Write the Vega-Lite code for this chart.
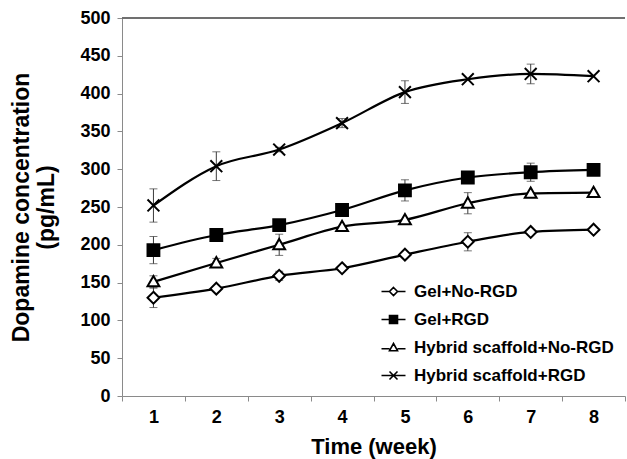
{
  "$schema": "https://vega.github.io/schema/vega-lite/v6.json",
  "width": 503,
  "height": 378,
  "autosize": {"type": "none"},
  "padding": {"left": 122, "top": 18, "right": 2, "bottom": 63},
  "background": "white",
  "config": {
    "view": {"stroke": null},
    "font": "Liberation Sans",
    "axis": {"labelFont": "Liberation Sans", "titleFont": "Liberation Sans", "labelFontWeight": "bold", "titleFontWeight": "bold", "labelColor": "black", "titleColor": "black", "domainColor": "#8a8a8a", "tickColor": "#8a8a8a", "grid": false}
  },
  "datasets": {
    "pts": [
      {"series": "Gel+No-RGD", "week": 1, "value": 130, "lo": 117, "hi": 143},
      {"series": "Gel+No-RGD", "week": 2, "value": 142},
      {"series": "Gel+No-RGD", "week": 3, "value": 159, "lo": 153, "hi": 165},
      {"series": "Gel+No-RGD", "week": 4, "value": 169},
      {"series": "Gel+No-RGD", "week": 5, "value": 187},
      {"series": "Gel+No-RGD", "week": 6, "value": 204, "lo": 192, "hi": 216},
      {"series": "Gel+No-RGD", "week": 7, "value": 217},
      {"series": "Gel+No-RGD", "week": 8, "value": 220},
      {"series": "Gel+RGD", "week": 1, "value": 193, "lo": 175, "hi": 211},
      {"series": "Gel+RGD", "week": 2, "value": 213, "lo": 206, "hi": 220},
      {"series": "Gel+RGD", "week": 3, "value": 226},
      {"series": "Gel+RGD", "week": 4, "value": 246},
      {"series": "Gel+RGD", "week": 5, "value": 272, "lo": 258, "hi": 286},
      {"series": "Gel+RGD", "week": 6, "value": 289},
      {"series": "Gel+RGD", "week": 7, "value": 296, "lo": 284, "hi": 308},
      {"series": "Gel+RGD", "week": 8, "value": 299},
      {"series": "Hybrid scaffold+No-RGD", "week": 1, "value": 151, "lo": 143, "hi": 159},
      {"series": "Hybrid scaffold+No-RGD", "week": 2, "value": 176, "lo": 170, "hi": 182},
      {"series": "Hybrid scaffold+No-RGD", "week": 3, "value": 200, "lo": 186, "hi": 214},
      {"series": "Hybrid scaffold+No-RGD", "week": 4, "value": 224},
      {"series": "Hybrid scaffold+No-RGD", "week": 5, "value": 233},
      {"series": "Hybrid scaffold+No-RGD", "week": 6, "value": 255, "lo": 241, "hi": 269},
      {"series": "Hybrid scaffold+No-RGD", "week": 7, "value": 268},
      {"series": "Hybrid scaffold+No-RGD", "week": 8, "value": 269},
      {"series": "Hybrid scaffold+RGD", "week": 1, "value": 252, "lo": 230, "hi": 274},
      {"series": "Hybrid scaffold+RGD", "week": 2, "value": 304, "lo": 285, "hi": 323},
      {"series": "Hybrid scaffold+RGD", "week": 3, "value": 326, "lo": 323, "hi": 329},
      {"series": "Hybrid scaffold+RGD", "week": 4, "value": 361, "lo": 355, "hi": 367},
      {"series": "Hybrid scaffold+RGD", "week": 5, "value": 402, "lo": 387, "hi": 417},
      {"series": "Hybrid scaffold+RGD", "week": 6, "value": 419},
      {"series": "Hybrid scaffold+RGD", "week": 7, "value": 426, "lo": 413, "hi": 439},
      {"series": "Hybrid scaffold+RGD", "week": 8, "value": 423}
    ]
  },
  "data": {"name": "pts"},
  "resolve": {"scale": {"shape": "independent", "fill": "independent", "stroke": "independent"}, "legend": {"shape": "independent", "fill": "independent", "stroke": "independent"}},
  "encoding": {
    "x": {
      "field": "week", "type": "quantitative",
      "scale": {"domain": [0.5, 8.5], "nice": false, "zero": false},
      "axis": {
        "title": "Time (week)", "titleFontSize": 22, "titlePadding": 10,
        "values": [0.5, 1.5, 2.5, 3.5, 4.5, 5.5, 6.5, 7.5, 8.5],
        "labelExpr": "datum.value < 8 ? format(datum.value + 0.5, 'd') : ''",
        "labelOffset": 31.4, "labelFontSize": 18, "labelPadding": 7, "tickSize": 5,
        "labelFlush": false, "labelOverlap": false, "labelBound": false
      }
    },
    "y": {
      "field": "value", "type": "quantitative",
      "scale": {"domain": [0, 500], "nice": false},
      "axis": {
        "title": ["Dopamine concentration", "(pg/mL)"], "titleFontSize": 23, "titleLineHeight": 25, "titlePadding": 21,
        "values": [0, 50, 100, 150, 200, 250, 300, 350, 400, 450, 500],
        "labelFontSize": 18, "labelPadding": 7, "tickSize": 5
      }
    }
  },
  "layer": [
    {
      "mark": {"type": "rule", "color": "#707070", "strokeWidth": 1.5},
      "encoding": {"x": null, "y": {"datum": 500, "type": "quantitative"}}
    },
    {
      "mark": {"type": "errorbar", "ticks": {"size": 8, "color": "#3a3a3a", "strokeWidth": 1}, "rule": {"color": "#3a3a3a", "strokeWidth": 1}},
      "encoding": {
        "y": {"field": "lo", "type": "quantitative"},
        "y2": {"field": "hi"}
      }
    },
    {
      "mark": {"type": "line", "color": "black", "strokeWidth": 2.2, "interpolate": "monotone"},
      "encoding": {
        "detail": {"field": "series"}
      }
    },
    {
      "mark": {"type": "point", "filled": true, "opacity": 1, "stroke": "black", "strokeWidth": 2},
      "encoding": {
        "shape": {
          "field": "series", "type": "nominal",
          "scale": {
            "domain": ["Gel+No-RGD", "Gel+RGD", "Hybrid scaffold+No-RGD", "Hybrid scaffold+RGD"],
            "range": ["M0,-1L1,0L0,1L-1,0Z", "square", "M0,-1L1,0.75L-1,0.75Z", "M-1,-1L1,1M1,-1L-1,1"]
          },
          "legend": null
        },
        "fill": {
          "field": "series", "type": "nominal",
          "scale": {
            "domain": ["Gel+No-RGD", "Gel+RGD", "Hybrid scaffold+No-RGD", "Hybrid scaffold+RGD"],
            "range": ["white", "black", "white", "black"]
          },
          "legend": null
        },
        "size": {"value": 140}
      }
    },
    {
      "transform": [{"filter": "datum.week > 100"}],
      "mark": {"type": "point", "filled": false, "color": "black", "opacity": 1, "strokeWidth": 1.6},
      "encoding": {
        "shape": {
          "field": "series", "type": "nominal",
          "scale": {
            "domain": ["Gel+No-RGD", "Gel+RGD", "Hybrid scaffold+No-RGD", "Hybrid scaffold+RGD"],
            "range": ["M-3,0H-1M1,0H3M0,-1L1,0L0,1L-1,0Z", "M-3,0H-1M1,0H3M-1,-1H1V1H-1Z", "M-3,0.3H-1M1,0.3H3M0,-1L1,0.8L-1,0.8Z", "M-3,0H3M-1,-1L1,1M1,-1L-1,1"]
          },
          "legend": {
            "title": null, "orient": "none", "legendX": 263, "legendY": 265,
            "symbolSize": 64, "symbolStrokeColor": "black", "symbolStrokeWidth": 1.6,
            "labelFont": "Liberation Sans", "labelFontWeight": "bold", "labelFontSize": 17, "labelColor": "black",
            "labelOffset": 12, "rowPadding": 10, "labelLimit": 400
          }
        },
        "fill": {
          "field": "series", "type": "nominal",
          "scale": {
            "domain": ["Gel+No-RGD", "Gel+RGD", "Hybrid scaffold+No-RGD", "Hybrid scaffold+RGD"],
            "range": ["white", "black", "white", "black"]
          },
          "legend": {
            "title": null, "orient": "none", "legendX": 263, "legendY": 265,
            "symbolSize": 64, "symbolStrokeColor": "black", "symbolStrokeWidth": 1.6,
            "labelFont": "Liberation Sans", "labelFontWeight": "bold", "labelFontSize": 17, "labelColor": "black",
            "labelOffset": 12, "rowPadding": 10, "labelLimit": 400
          }
        },
        "stroke": {
          "field": "series", "type": "nominal",
          "scale": {
            "domain": ["Gel+No-RGD", "Gel+RGD", "Hybrid scaffold+No-RGD", "Hybrid scaffold+RGD"],
            "range": ["black", "black", "black", "black"]
          },
          "legend": {
            "title": null, "orient": "none", "legendX": 263, "legendY": 265,
            "symbolSize": 64, "symbolStrokeColor": "black", "symbolStrokeWidth": 1.6,
            "labelFont": "Liberation Sans", "labelFontWeight": "bold", "labelFontSize": 17, "labelColor": "black",
            "labelOffset": 12, "rowPadding": 10, "labelLimit": 400
          }
        }
      }
    }
  ]
}
